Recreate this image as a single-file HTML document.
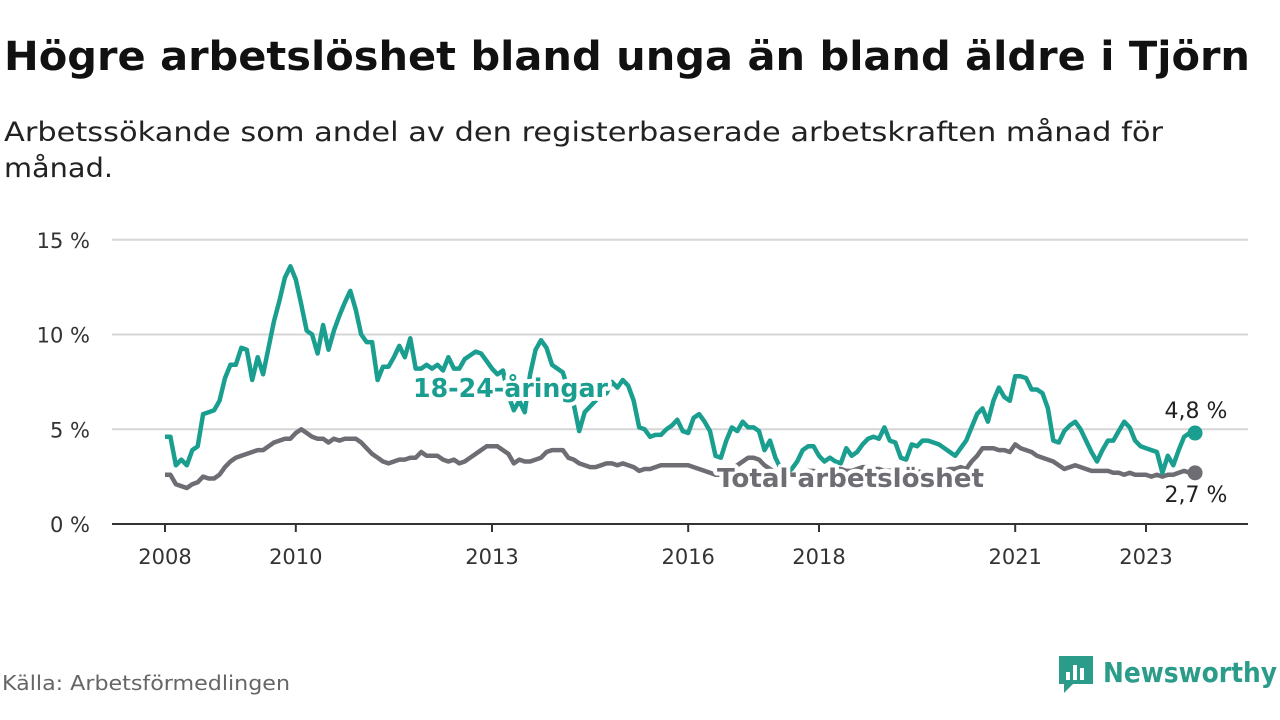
<!DOCTYPE html>
<html><head><meta charset="utf-8">
<style>
body{margin:0;width:1280px;height:720px;background:#fff;font-family:"DejaVu Sans","Liberation Sans",sans-serif;overflow:hidden;position:relative}
svg text{font-family:"DejaVu Sans","Liberation Sans",sans-serif}
</style></head><body>
<svg id="chart" width="1280" height="720" style="position:absolute;left:0;top:0">
<text x="4" y="70" font-size="40" font-weight="bold" fill="#111" textLength="1246" lengthAdjust="spacingAndGlyphs">Högre arbetslöshet bland unga än bland äldre i Tjörn</text>
<text x="4" y="141" font-size="27" fill="#222" textLength="1159" lengthAdjust="spacingAndGlyphs">Arbetssökande som andel av den registerbaserade arbetskraften månad för</text>
<text x="4" y="177" font-size="27" fill="#222" textLength="109" lengthAdjust="spacingAndGlyphs">månad.</text>
<text x="2" y="690" font-size="20" fill="#666" textLength="288" lengthAdjust="spacingAndGlyphs">Källa: Arbetsförmedlingen</text>
<g>
<path d="M1059 656h34v28h-20l-9 9v-9h-5z" fill="#2c9c8a"/><rect x="1066" y="672" width="4" height="8" fill="#fff"/><rect x="1073" y="665" width="4" height="15" fill="#fff"/><rect x="1080" y="668" width="4" height="12" fill="#fff"/>
<text x="1103" y="682" font-size="28" font-weight="bold" fill="#2c9c8a" textLength="174" lengthAdjust="spacingAndGlyphs">Newsworthy</text>
</g>
</svg>
<script>
const yTicks=[0,5,10,15];
const yTickLabels=["0 %","5 %","10 %","15 %"];
const xTicks=[2008,2010,2013,2016,2018,2021,2023];
const startYear=2008;
const young=[4.6,4.6,3.1,3.4,3.1,3.9,4.1,5.8,5.9,6.0,6.5,7.7,8.4,8.4,9.3,9.2,7.6,8.8,7.9,9.3,10.7,11.8,13.0,13.6,12.9,11.6,10.2,10.0,9.0,10.5,9.2,10.2,11.0,11.7,12.3,11.3,10.0,9.6,9.6,7.6,8.3,8.3,8.8,9.4,8.8,9.8,8.2,8.2,8.4,8.2,8.4,8.1,8.8,8.2,8.2,8.7,8.9,9.1,9.0,8.6,8.2,7.9,8.1,6.8,6.0,6.5,5.9,7.9,9.2,9.7,9.3,8.4,8.2,8.0,7.1,6.3,4.9,5.9,6.2,6.5,6.8,6.9,7.5,7.2,7.6,7.3,6.5,5.1,5.0,4.6,4.7,4.7,5.0,5.2,5.5,4.9,4.8,5.6,5.8,5.4,4.9,3.6,3.5,4.4,5.1,4.9,5.4,5.1,5.1,4.9,3.9,4.4,3.5,2.9,2.7,2.9,3.3,3.9,4.1,4.1,3.6,3.3,3.5,3.3,3.2,4.0,3.6,3.8,4.2,4.5,4.6,4.5,5.1,4.4,4.3,3.5,3.4,4.2,4.1,4.4,4.4,4.3,4.2,4.0,3.8,3.6,4.0,4.4,5.1,5.8,6.1,5.4,6.5,7.2,6.7,6.5,7.8,7.8,7.7,7.1,7.1,6.9,6.1,4.4,4.3,4.9,5.2,5.4,5.0,4.4,3.8,3.3,3.9,4.4,4.4,4.9,5.4,5.1,4.4,4.1,4.0,3.9,3.8,2.7,3.6,3.1,3.9,4.6,4.8,4.8];
const total=[2.6,2.6,2.1,2.0,1.9,2.1,2.2,2.5,2.4,2.4,2.6,3.0,3.3,3.5,3.6,3.7,3.8,3.9,3.9,4.1,4.3,4.4,4.5,4.5,4.8,5.0,4.8,4.6,4.5,4.5,4.3,4.5,4.4,4.5,4.5,4.5,4.3,4.0,3.7,3.5,3.3,3.2,3.3,3.4,3.4,3.5,3.5,3.8,3.6,3.6,3.6,3.4,3.3,3.4,3.2,3.3,3.5,3.7,3.9,4.1,4.1,4.1,3.9,3.7,3.2,3.4,3.3,3.3,3.4,3.5,3.8,3.9,3.9,3.9,3.5,3.4,3.2,3.1,3.0,3.0,3.1,3.2,3.2,3.1,3.2,3.1,3.0,2.8,2.9,2.9,3.0,3.1,3.1,3.1,3.1,3.1,3.1,3.0,2.9,2.8,2.7,2.6,2.6,2.7,2.9,3.1,3.3,3.5,3.5,3.4,3.1,2.9,2.7,2.7,2.7,2.6,2.6,2.7,2.8,2.8,2.7,2.7,2.8,2.9,2.9,2.8,2.8,2.9,3.0,3.0,2.9,2.9,2.8,2.8,2.9,2.9,2.8,2.8,2.8,2.7,2.7,2.7,2.8,2.8,2.9,2.9,3.0,2.9,3.3,3.6,4.0,4.0,4.0,3.9,3.9,3.8,4.2,4.0,3.9,3.8,3.6,3.5,3.4,3.3,3.1,2.9,3.0,3.1,3.0,2.9,2.8,2.8,2.8,2.8,2.7,2.7,2.6,2.7,2.6,2.6,2.6,2.5,2.6,2.5,2.6,2.6,2.7,2.8,2.7,2.7];
const svg=document.getElementById('chart');
const NS='http://www.w3.org/2000/svg';
const X=yr=>165+(yr-2008)*65.4;
const Xm=m=>X(startYear+m/12);
const Y=v=>524-v*18.95;
function mk(t,a){const e=document.createElementNS(NS,t);for(const k in a)e.setAttribute(k,a[k]);svg.appendChild(e);return e;}
yTicks.forEach((t,i)=>{
 if(t>0){const g=mk('line',{x1:112,x2:1248,y1:Y(t),y2:Y(t),stroke:'#d6d6d6','stroke-width':2});
 
 }
 const l=mk('text',{x:90,y:Y(t)+8,'text-anchor':'end','font-size':21,fill:'#333'});l.textContent=yTickLabels[i];
 
 
});
const ax=mk('line',{x1:112,x2:1248,y1:524,y2:524,stroke:'#333','stroke-width':2});


xTicks.forEach(t=>{
 const tk=mk('line',{x1:X(t),x2:X(t),y1:524,y2:532,stroke:'#333','stroke-width':2});
 
 
 const l=mk('text',{x:X(t),y:564,'text-anchor':'middle','font-size':21,fill:'#333'});l.textContent=t;
 
 
});
function line(arr,col,name){
 const d=arr.map((v,i)=>(i?'L':'M')+Xm(i).toFixed(1)+' '+Y(v).toFixed(1)).join('');
 const p=mk('path',{d:d,fill:'none',stroke:col,'stroke-width':4.5,'stroke-linejoin':'round'});
 
 
 const n=arr.length-1;
 const c=mk('circle',{cx:Xm(n),cy:Y(arr[n]),r:7.5,fill:col});
 
 
}
line(total,'#6e6d74','total-line');
line(young,'#1a9e8f','young-line');
function lbl(x,y,txt,col,sz,bold,name,len,anchor){
 const t=mk('text',{x:x,y:y,'font-size':sz,fill:col,'font-weight':bold?'bold':'normal','text-anchor':anchor||'start',stroke:'#fff','stroke-width':8,'paint-order':'stroke','stroke-linejoin':'round'});
 if(len){t.setAttribute('textLength',len);t.setAttribute('lengthAdjust','spacingAndGlyphs');}
 t.textContent=txt;
 
 
}
lbl(413,397,'18-24-åringar','#1a9e8f',26,true,'young-series-label',195);
lbl(717,487,'Total arbetslöshet','#6e6d74',26,true,'total-series-label',267);
lbl(1196,418,'4,8 %','#222',22,false,'young-end-value',0,'middle');
lbl(1196,502,'2,7 %','#222',22,false,'total-end-value',0,'middle');
</script>
</body></html>
